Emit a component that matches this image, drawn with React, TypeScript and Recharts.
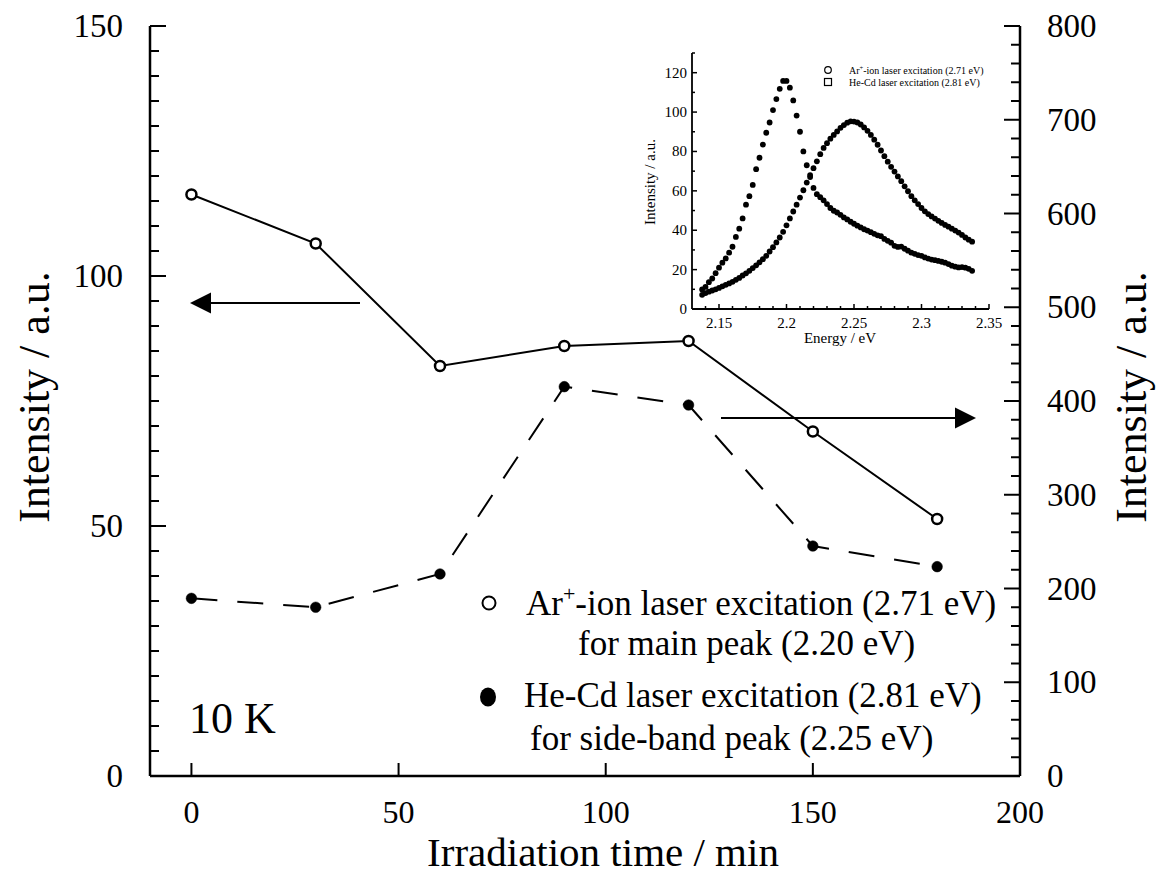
import React from 'react';
import { ComposedChart, Line, XAxis, YAxis, ScatterChart, Scatter } from 'recharts';

const FONT = '"Liberation Serif", "Times New Roman", Times, serif';

// Main chart data
const times = [0, 30, 60, 90, 120, 150, 180];
const arIntensity = [116.3, 106.5, 82.0, 86.0, 87.0, 68.9, 51.4];
const hecdIntensity = [189.5, 180.0, 215.5, 415.3, 395.7, 245.3, 223.3];

const xTicks = [0, 50, 100, 150, 200];
const leftTicks = [0, 5, 10, 15, 20, 25, 30, 35, 40, 45, 50, 55, 60, 65, 70, 75, 80, 85, 90, 95, 100, 105, 110, 115, 120, 125, 130, 135, 140, 145, 150];
const rightTicks = [0, 20, 40, 60, 80, 100, 120, 140, 160, 180, 200, 220, 240, 260, 280, 300, 320, 340, 360, 380, 400, 420, 440, 460, 480, 500, 520, 540, 560, 580, 600, 620, 640, 660, 680, 700, 720, 740, 760, 780, 800];

// Inset data
const energies = [
  2.1375, 2.14, 2.1425, 2.145, 2.1475, 2.15, 2.1525, 2.155, 2.1575, 2.16,
  2.1625, 2.165, 2.1675, 2.17, 2.1725, 2.175, 2.1775, 2.18, 2.1825, 2.185,
  2.1875, 2.19, 2.1925, 2.195, 2.1975, 2.2, 2.2025, 2.205, 2.2075, 2.21,
  2.2125, 2.215, 2.2175, 2.22, 2.2225, 2.225, 2.2275, 2.23, 2.2325, 2.235,
  2.2375, 2.24, 2.2425, 2.245, 2.2475, 2.25, 2.2525, 2.255, 2.2575, 2.26,
  2.2625, 2.265, 2.2675, 2.27, 2.2725, 2.275, 2.2775, 2.28, 2.2825, 2.285,
  2.2875, 2.29, 2.2925, 2.295, 2.2975, 2.3, 2.3025, 2.305, 2.3075, 2.31,
  2.3125, 2.315, 2.3175, 2.32, 2.3225, 2.325, 2.3275, 2.33, 2.3325, 2.335,
  2.3375,
];
const insetSharp = [
  9.9, 11.2, 13.6, 15.5, 18.2, 21.0, 23.5, 25.7, 28.6, 31.6,
  36.6, 40.8, 46.0, 53.0, 57.3, 63.0, 71.0, 76.8, 83.5, 89.5,
  94.7, 101.0, 106.6, 111.8, 115.8, 115.8, 112.4, 105.9, 98.2, 90.0,
  80.0, 73.0, 67.0, 61.5, 58.3, 56.8, 55.2, 53.3, 51.3, 49.9,
  49.0, 47.8, 46.5, 45.5, 44.3, 43.3, 42.3, 41.4, 40.5, 39.8,
  39.0, 38.2, 37.4, 37.0, 35.6, 34.6, 33.7, 32.1, 31.5, 31.7,
  30.6, 29.6, 28.6, 28.0, 27.4, 27.0, 26.2, 25.6, 25.1, 24.8,
  24.4, 24.0, 23.5, 22.8, 22.0, 21.5, 21.1, 21.3, 21.0, 20.4,
  19.4,
];
const insetBroad = [
  7.2, 8.1, 8.8, 9.4, 10.0, 10.7, 11.5, 12.3, 13.0, 13.8,
  14.8, 15.8, 17.0, 18.1, 19.4, 20.8, 22.2, 23.7, 25.3, 27.0,
  29.2, 31.4, 33.8, 36.3, 39.2, 42.5, 46.0, 49.5, 53.0, 56.6,
  60.3, 64.2, 68.0, 71.5, 75.0, 78.6, 81.8, 84.2, 86.5, 88.4,
  90.2, 92.0, 93.4, 94.6, 95.3, 95.2, 94.7, 93.7, 92.2, 90.5,
  88.4, 86.0, 83.4, 80.5, 77.6, 74.8, 72.2, 69.8, 67.3, 64.9,
  62.3, 59.8, 57.3, 55.2, 53.3, 51.3, 49.6, 48.2, 47.0, 45.9,
  44.8, 43.7, 42.7, 41.8, 40.8, 39.8, 38.8, 37.6, 36.3, 35.2,
  34.2,
];
const insetXTicks = [2.14, 2.15, 2.16, 2.17, 2.18, 2.19, 2.2, 2.21, 2.22, 2.23, 2.24, 2.25, 2.26, 2.27, 2.28, 2.29, 2.3, 2.31, 2.32, 2.33, 2.34, 2.35];
const insetXLabels = [2.15, 2.2, 2.25, 2.3, 2.35];
const insetYTicks = [0, 10, 20, 30, 40, 50, 60, 70, 80, 90, 100, 110, 120, 130];
const insetYLabels = [0, 20, 40, 60, 80, 100, 120];

const mainData = times.map((t, i) => ({ t, ar: arIntensity[i], hecd: hecdIntensity[i] }));
const insetDataSharp = energies.map((e, i) => ({ e, v: insetSharp[i] }));
const insetDataBroad = energies.map((e, i) => ({ e, v: insetBroad[i] }));

const isLabel = (v: number, list: number[]) => list.some((l) => Math.abs(l - v) < 1e-6);

function LeftTick(props: any) {
  const { x, y, payload } = props;
  const v = payload.value;
  const major = v % 50 === 0;
  return (
    <g>
      <line x1={x} y1={y} x2={x + (major ? 16 : 9)} y2={y} stroke="#000" strokeWidth={2} />
      {major && (
        <text x={x - 27} y={y + 11} textAnchor="end" fontSize={33} fontFamily={FONT} fill="#000">{v}</text>
      )}
    </g>
  );
}

function RightTick(props: any) {
  const { x, y, payload } = props;
  const v = payload.value;
  const major = v % 100 === 0;
  return (
    <g>
      <line x1={x} y1={y} x2={x - (major ? 16 : 9)} y2={y} stroke="#000" strokeWidth={2} />
      {major && (
        <text x={x + 27} y={y + 11} textAnchor="start" fontSize={33} fontFamily={FONT} fill="#000">{v}</text>
      )}
    </g>
  );
}

function BottomTick(props: any) {
  const { x, y, payload } = props;
  return (
    <g>
      <line x1={x} y1={y} x2={x} y2={y - 13} stroke="#000" strokeWidth={2} />
      <text x={x} y={y + 47} textAnchor="middle" fontSize={32} fontFamily={FONT} fill="#000">{payload.value}</text>
    </g>
  );
}

function TopTick(props: any) {
  const { x, y } = props;
  return <line x1={x} y1={y} x2={x} y2={y + 14} stroke="#000" strokeWidth={2} />;
}

function OpenDot(props: any) {
  const { cx, cy } = props;
  if (cx == null || cy == null) return null;
  return <circle cx={cx} cy={cy} r={5} fill="#fff" stroke="#000" strokeWidth={2.5} />;
}

function FilledDot(props: any) {
  const { cx, cy } = props;
  if (cx == null || cy == null) return null;
  return <circle cx={cx} cy={cy} r={5.3} fill="#000" stroke="#000" strokeWidth={0.5} />;
}

// Inset ticks
function InsetBottomTick(props: any) {
  const { x, y, payload } = props;
  const v = payload.value;
  const major = isLabel(v, insetXLabels);
  return (
    <g>
      <line x1={x} y1={y} x2={x} y2={y - (major ? 5 : 3)} stroke="#000" strokeWidth={1.5} />
      {major && (
        <text x={x} y={y + 19} textAnchor="middle" fontSize={15} fontFamily={FONT} fill="#000">{String(v)}</text>
      )}
    </g>
  );
}

function InsetTopTick(props: any) {
  const { x, y, payload } = props;
  const major = isLabel(payload.value, insetXLabels);
  return <line x1={x} y1={y} x2={x} y2={y + (major ? 5 : 3)} stroke="#000" strokeWidth={1.5} />;
}

function InsetLeftTick(props: any) {
  const { x, y, payload } = props;
  const v = payload.value;
  const major = isLabel(v, insetYLabels);
  return (
    <g>
      <line x1={x} y1={y} x2={x + (major ? 5 : 3)} y2={y} stroke="#000" strokeWidth={1.5} />
      {major && (
        <text x={x - 5} y={y + 5} textAnchor="end" fontSize={15} fontFamily={FONT} fill="#000">{v}</text>
      )}
    </g>
  );
}

function InsetRightTick(props: any) {
  const { x, y, payload } = props;
  const major = isLabel(payload.value, insetYLabels);
  return <line x1={x} y1={y} x2={x - (major ? 5 : 3)} y2={y} stroke="#000" strokeWidth={1.5} />;
}

const insetDot = (props: any) => {
  const { cx, cy } = props;
  if (cx == null || cy == null) return <g />;
  return <circle cx={cx} cy={cy} r={2.9} fill="#000" />;
};

const axisLine = { stroke: '#000', strokeWidth: 2.5 };
const insetAxisLine = { stroke: '#000', strokeWidth: 1.8 };

export default function App() {
  return (
    <div style={{ position: 'absolute', left: 0, top: 0, width: 1161, height: 875, background: '#fff', overflow: 'hidden' }}>
      <div style={{ position: 'absolute', left: 0, top: 0 }}>
        <ComposedChart width={1161} height={875} data={mainData} margin={{ top: 26, right: 0, bottom: 0, left: 0 }}>
          <XAxis xAxisId="b" dataKey="t" type="number" domain={[-10, 200]} ticks={xTicks} interval={0}
            tickSize={0} tickMargin={0} tick={<BottomTick />} axisLine={axisLine} height={99} allowDataOverflow />
          <XAxis xAxisId="t" orientation="top" dataKey="t" type="number" domain={[-10, 200]} ticks={xTicks} interval={0}
            tickSize={0} tickMargin={0} tick={<TopTick />} axisLine={axisLine} height={0} allowDataOverflow />
          <YAxis yAxisId="l" orientation="left" type="number" width={150} domain={[0, 150]} ticks={leftTicks} interval={0}
            tickSize={0} tickMargin={0} tick={<LeftTick />} axisLine={axisLine} allowDataOverflow />
          <YAxis yAxisId="r" orientation="right" type="number" width={141} domain={[0, 800]} ticks={rightTicks} interval={0}
            tickSize={0} tickMargin={0} tick={<RightTick />} axisLine={axisLine} allowDataOverflow />
          <Line xAxisId="b" yAxisId="l" type="linear" dataKey="ar" stroke="#000" strokeWidth={2}
            dot={<OpenDot />} activeDot={false} isAnimationActive={false} />
          <Line xAxisId="b" yAxisId="r" type="linear" dataKey="hecd" stroke="#000" strokeWidth={2}
            strokeDasharray="26 20" dot={<FilledDot />} activeDot={false} isAnimationActive={false} />
        </ComposedChart>
      </div>

      <div style={{ position: 'absolute', left: 620, top: 20 }}>
        <ScatterChart width={400} height={330} margin={{ top: 33, right: 31, bottom: 0, left: 0 }}>
          <XAxis xAxisId="b" dataKey="e" type="number" domain={[2.13, 2.35]} ticks={insetXTicks} interval={0}
            tickSize={0} tickMargin={0} tick={<InsetBottomTick />} axisLine={insetAxisLine} height={41} allowDataOverflow />
          <XAxis xAxisId="t" orientation="top" dataKey="e" type="number" domain={[2.13, 2.35]} ticks={insetXTicks} interval={0}
            tickSize={0} tickMargin={0} tick={<InsetTopTick />} axisLine={insetAxisLine} height={0} allowDataOverflow />
          <YAxis yAxisId="l" dataKey="v" type="number" domain={[0, 130]} ticks={insetYTicks} interval={0}
            tickSize={0} tickMargin={0} tick={<InsetLeftTick />} axisLine={insetAxisLine} width={72} allowDataOverflow />
          <YAxis yAxisId="r" orientation="right" dataKey="v" type="number" domain={[0, 130]} ticks={insetYTicks} interval={0}
            tickSize={0} tickMargin={0} tick={<InsetRightTick />} axisLine={insetAxisLine} width={0} allowDataOverflow />
          <Scatter xAxisId="b" yAxisId="l" data={insetDataBroad} dataKey="v" shape={insetDot} isAnimationActive={false} />
          <Scatter xAxisId="b" yAxisId="l" data={insetDataSharp} dataKey="v" shape={insetDot} isAnimationActive={false} />
        </ScatterChart>
      </div>

      <svg width={1161} height={875} style={{ position: 'absolute', left: 0, top: 0, pointerEvents: 'none' }}
        fontFamily={FONT} fill="#000">
        {/* Axis titles */}
        <text x={603} y={866} textAnchor="middle" fontSize={41}>Irradiation time / min</text>
        <text transform="translate(34,397) rotate(-90)" textAnchor="middle" dominantBaseline="central" fontSize={44}>Intensity / a.u.</text>
        <text transform="translate(1131,397) rotate(-90)" textAnchor="middle" dominantBaseline="central" fontSize={44}>Intensity / a.u.</text>

        {/* Arrows */}
        <line x1={360} y1={303} x2={205} y2={303} stroke="#000" strokeWidth={2.2} />
        <polygon points="190,303 211,292.5 211,313.5" fill="#000" />
        <line x1={721} y1={418} x2={960} y2={418} stroke="#000" strokeWidth={2.2} />
        <polygon points="976,418 955,407.5 955,428.5" fill="#000" />

        {/* Legend */}
        <circle cx={489} cy={603} r={6.5} fill="#fff" stroke="#000" strokeWidth={2} />
        <text x={526} y={615} fontSize={35}>
          <tspan>Ar</tspan>
          <tspan dy={-14} fontSize={22}>+</tspan>
          <tspan dy={14}>-ion laser excitation (2.71 eV)</tspan>
        </text>
        <text x={578} y={655} fontSize={35}>for main peak (2.20 eV)</text>
        <ellipse cx={488} cy={697} rx={8} ry={9.5} fill="#000" />
        <text x={524} y={707} fontSize={35}>He-Cd laser excitation (2.81 eV)</text>
        <text x={530} y={750} fontSize={35}>for side-band peak (2.25 eV)</text>

        <text x={189} y={733} fontSize={44}>10 K</text>

        {/* Inset labels */}
        <text x={840} y={343} textAnchor="middle" fontSize={15}>Energy / eV</text>
        <text transform="translate(650,182) rotate(-90)" textAnchor="middle" dominantBaseline="central" fontSize={15}>Intensity / a.u.</text>
        <circle cx={828} cy={70} r={3.3} fill="#fff" stroke="#000" strokeWidth={1.2} />
        <text x={849} y={73.5} fontSize={10}>
          <tspan>Ar</tspan>
          <tspan dy={-4} fontSize={6.5}>+</tspan>
          <tspan dy={4}>-ion laser excitation (2.71 eV)</tspan>
        </text>
        <rect x={824.5} y={78.5} width={7} height={7} fill="#fff" stroke="#000" strokeWidth={1.2} />
        <text x={849} y={85.5} fontSize={10}>He-Cd laser excitation (2.81 eV)</text>
      </svg>
    </div>
  );
}
